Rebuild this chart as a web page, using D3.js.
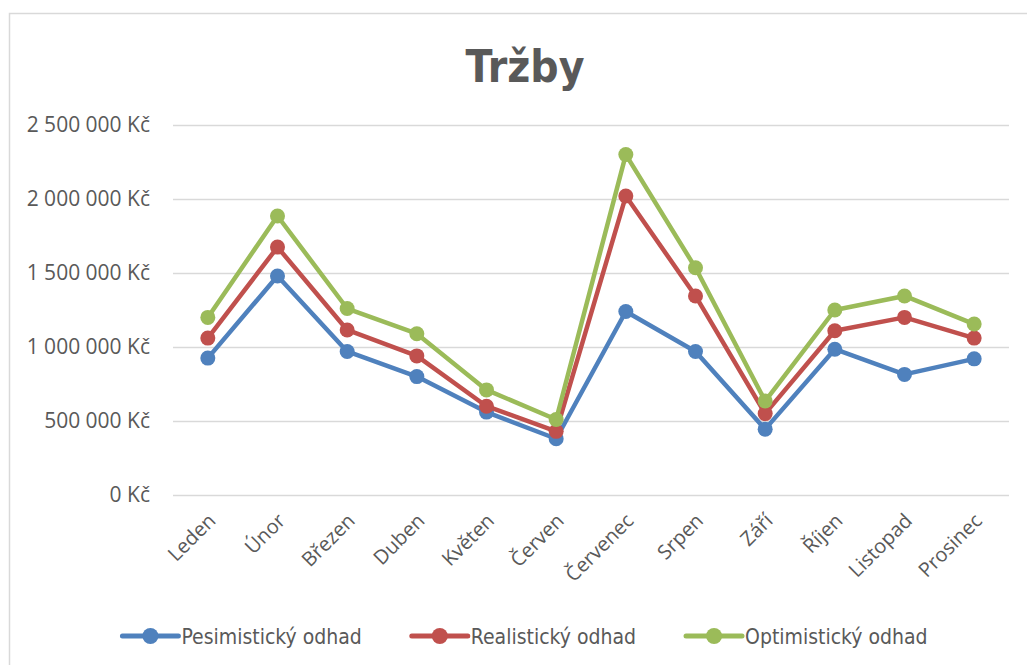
<!DOCTYPE html>
<html>
<head>
<meta charset="utf-8">
<script src="https://cdn.jsdelivr.net/npm/d3@7"></script>
<style>
  body { margin: 0; background: #fff; }
  svg { display: block; }
</style>
</head>
<body>
<svg id="chart" width="1027" height="665"></svg>
<script>
const months = ['Leden', 'Únor', 'Březen', 'Duben', 'Květen', 'Červen',
  'Červenec', 'Srpen', 'Září', 'Říjen', 'Listopad', 'Prosinec'];

const pesimisticky = [925000, 1480000, 970000, 800000, 560000, 380000,
  1240000, 970000, 445000, 985000, 815000, 920000];
const realisticky = [1060000, 1675000, 1115000, 940000, 600000, 430000,
  2020000, 1345000, 550000, 1110000, 1200000, 1060000];
const optimisticky = [1200000, 1885000, 1260000, 1090000, 710000, 510000,
  2300000, 1535000, 635000, 1250000, 1345000, 1155000];

const seriesNames = ['Pesimistický odhad', 'Realistický odhad', 'Optimistický odhad'];
const yTicks = [0, 500000, 1000000, 1500000, 2000000, 2500000];

const colors = ['#4f81bd', '#c0504d', '#9bbb59'];
const series = [pesimisticky, realisticky, optimisticky].map((values, i) => ({
  name: seriesNames[i],
  color: colors[i],
  values
}));

const svg = d3.select('#chart');
const margin = { left: 173, right: 1009, top: 125, bottom: 495 };

// chart frame (runs off the right and bottom edge like the screenshot)
svg.append('rect')
  .attr('x', 9.5).attr('y', 13.5)
  .attr('width', 1040).attr('height', 680)
  .attr('fill', 'none').attr('stroke', '#d9d9d9').attr('stroke-width', 1.5);

const x = d3.scalePoint().domain(months).range([margin.left, margin.right]).padding(0.5);
const y = d3.scaleLinear().domain([0, 2500000]).range([margin.bottom, margin.top]);

const fmt = v => d3.format(',')(v).replace(/,/g, ' ') + ' Kč';

// gridlines + y labels
const yAxis = d3.axisLeft(y).tickValues(yTicks).tickSize(-(margin.right - margin.left))
  .tickPadding(23).tickFormat(fmt);
const yg = svg.append('g').attr('transform', `translate(${margin.left},0)`).call(yAxis);
yg.select('.domain').remove();
yg.selectAll('.tick line').attr('stroke', '#d9d9d9').attr('stroke-width', 1.5);
yg.selectAll('.tick text')
  .attr('fill', '#595959')
  .style('font-family', '"Open Sans", sans-serif')
  .style('font-size', '21px');

// x labels, rotated
svg.append('g').selectAll('text')
  .data(months)
  .join('text')
  .attr('transform', d => `translate(${x(d) + 9},522) rotate(-45)`)
  .attr('text-anchor', 'end')
  .attr('fill', '#595959')
  .style('font-family', '"Open Sans", sans-serif')
  .style('font-size', '20px')
  .text(d => d);

// lines and markers
const line = d3.line().x((d, i) => x(months[i])).y(d => y(d));
const sg = svg.append('g').selectAll('g').data(series).join('g');
sg.append('path')
  .attr('d', d => line(d.values))
  .attr('fill', 'none')
  .attr('stroke', d => d.color)
  .attr('stroke-width', 4.5)
  .attr('stroke-linejoin', 'round')
  .attr('stroke-linecap', 'round');
sg.selectAll('circle')
  .data(d => d.values.map((v, i) => ({ v, i, color: d.color })))
  .join('circle')
  .attr('cx', d => x(months[d.i]))
  .attr('cy', d => y(d.v))
  .attr('r', 7.5)
  .attr('fill', d => d.color);

// title
svg.append('text')
  .attr('x', 525).attr('y', 82)
  .attr('text-anchor', 'middle')
  .attr('fill', '#595959')
  .style('font-family', '"Liberation Sans Narrow", "DejaVu Sans Condensed", sans-serif')
  .style('font-weight', 'bold')
  .style('font-size', '44px')
  .text('Tržby');

// legend
const legend = svg.append('g');
const items = legend.selectAll('g').data(series).join('g');
items.append('line')
  .attr('x1', 0).attr('x2', 56).attr('y1', 0).attr('y2', 0)
  .attr('stroke', d => d.color).attr('stroke-width', 5).attr('stroke-linecap', 'round');
items.append('circle').attr('cx', 28).attr('cy', 0).attr('r', 8).attr('fill', d => d.color);
items.append('text')
  .attr('x', 59).attr('y', 8)
  .attr('fill', '#595959')
  .style('font-family', '"Liberation Sans Narrow", "DejaVu Sans Condensed", sans-serif')
  .style('font-size', '21px')
  .text(d => d.name);

let pos = 0;
const gap = 50;
items.each(function () {
  const w = this.getBBox().width;
  d3.select(this).attr('transform', `translate(${pos},636)`);
  pos += w + gap;
});
const total = pos - gap;
legend.attr('transform', `translate(${525 - total / 2},0)`);
</script>
</body>
</html>
